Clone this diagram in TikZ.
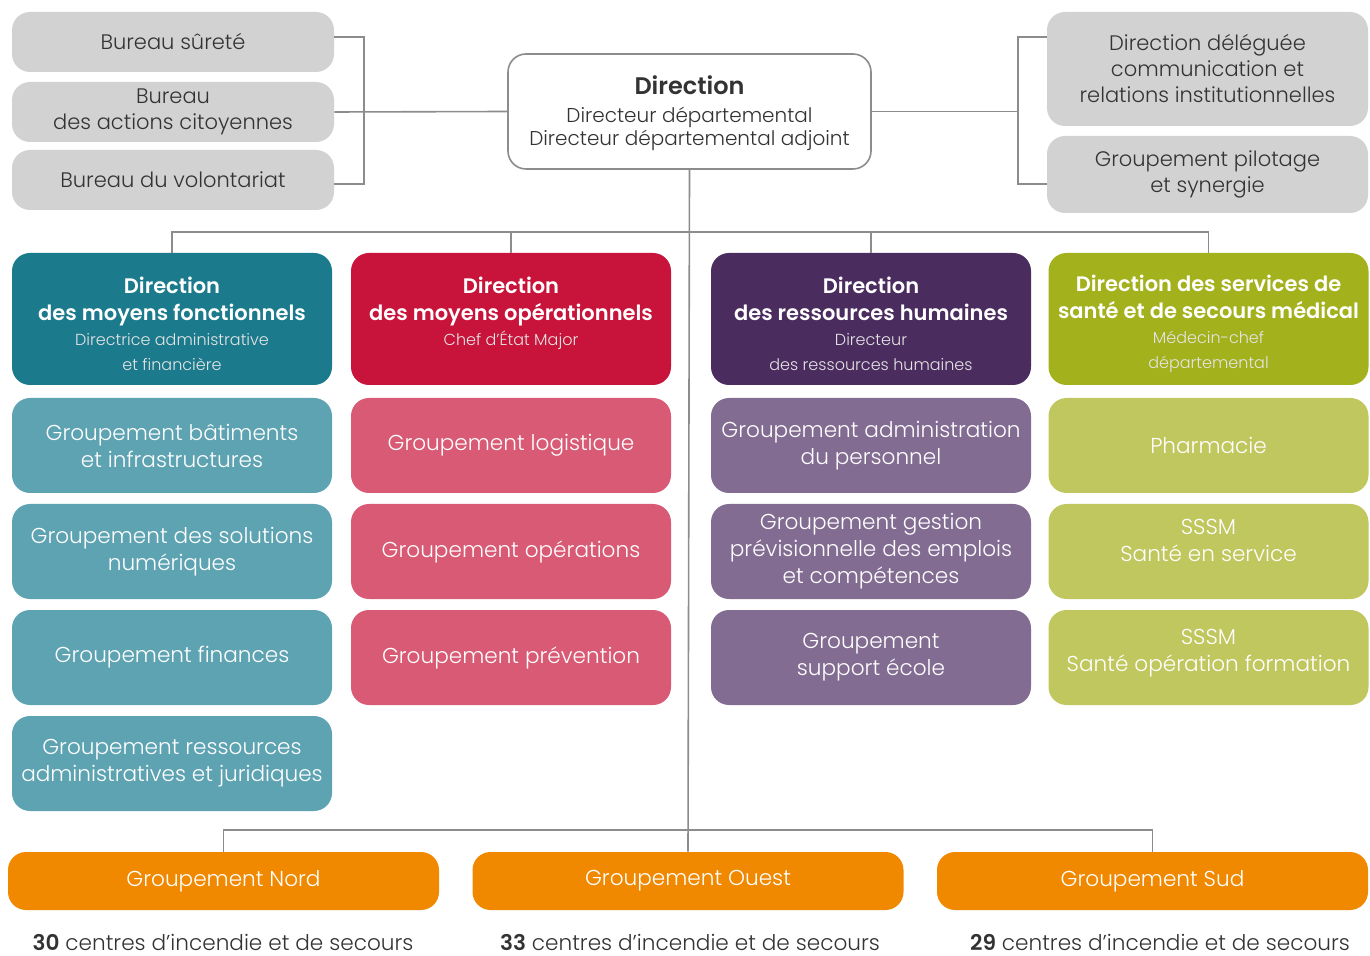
\documentclass[tikz,border=0pt]{standalone}
\usepackage{fontspec}
\setmainfont{Poppins}[UprightFont={* Light}, BoldFont={* SemiBold}]
\definecolor{lgray}{HTML}{D2D2D2}
\definecolor{tgray}{HTML}{333333}
\definecolor{linec}{HTML}{8C8C8C}
\definecolor{tealD}{HTML}{1B7A8C}
\definecolor{tealL}{HTML}{5EA3B2}
\definecolor{redD}{HTML}{C8133B}
\definecolor{redL}{HTML}{D85A74}
\definecolor{purD}{HTML}{4B2C5F}
\definecolor{purL}{HTML}{836C92}
\definecolor{olvD}{HTML}{A3B11D}
\definecolor{olvL}{HTML}{BFC75E}
\definecolor{orng}{HTML}{F08900}
\newcommand{\subtx}[1]{{\fontsize{8}{12}\selectfont\mdseries\color{white!90!black}#1}}
\begin{document}
\begin{tikzpicture}[x=0.5pt,y=-0.5pt,
  box/.style={rounded corners=9pt, align=center, inner sep=2pt, font=\fontsize{10.5}{13}\selectfont},
  graybox/.style={box, fill=lgray, text=tgray, minimum width=161pt},
  dirbox/.style={box, text=white, minimum width=160pt, minimum height=66pt, font=\fontsize{10.5}{13.5}\selectfont\bfseries},
  subbox/.style={box, text=white, minimum width=160pt, minimum height=47.5pt, font=\fontsize{10.8}{13.5}\selectfont},
  orbox/.style={box, fill=orng, text=white, minimum width=215.5pt, minimum height=29pt, font=\fontsize{10.8}{13}\selectfont},
  conn/.style={draw=linec, line width=0.8pt},
  count/.style={text=tgray, font=\fontsize{10.8}{13}\selectfont}
]
\useasboundingbox (0,0) rectangle (1370,956);

% top left
\node[graybox, minimum height=30pt] (bs) at (173,42) {Bureau sûreté};
\node[graybox, minimum height=30pt] (bac) at (173,112) {Bureau\\des actions citoyennes};
\node[graybox, minimum height=30pt] (bv) at (173,180) {Bureau du volontariat};

% direction
\node[box, draw=linec, line width=0.8pt, fill=white, minimum width=181.5pt, minimum height=57.5pt, text=tgray, font=\fontsize{10}{11.5}\selectfont] (dir) at (689.5,111.5)
  {\rule{0pt}{11.2pt}{\fontsize{12}{15}\selectfont\bfseries Direction}\\[2.6pt]Directeur départemental\\Directeur départemental adjoint};

% top right
\node[graybox, minimum width=160.5pt, minimum height=57pt] (dcom) at (1207.5,69) {Direction déléguée\\communication et\\relations institutionnelles};
\node[graybox, minimum width=160.5pt, minimum height=38.5pt] (gps) at (1207.5,174.5) {Groupement pilotage\\et synergie};

% directions
\node[dirbox, fill=tealD] (dmf) at (172,319) {\rule{0pt}{13pt}Direction\\des moyens fonctionnels\\[-1pt]\subtx{Directrice administrative}\\[-1pt]\subtx{et financière}};
\node[dirbox, fill=redD] (dmo) at (511,319) {\rule{0pt}{13pt}Direction\\des moyens opérationnels\\[-1pt]\subtx{Chef d’État Major}\\[-1pt]\subtx{\vphantom{et financière}}};
\node[dirbox, fill=purD] (drh) at (871,319) {\rule{0pt}{13pt}Direction\\des ressources humaines\\[-1pt]\subtx{Directeur}\\[-1pt]\subtx{des ressources humaines}};
\node[dirbox, fill=olvD] (dss) at (1208.5,319) {\rule{0pt}{13pt}Direction des services de\\santé et de secours médical\\[-1pt]\subtx{Médecin-chef}\\[-1pt]\subtx{départemental}};

% column 1
\node[subbox, fill=tealL] (g11) at (172,445.5) {Groupement bâtiments\\et infrastructures};
\node[subbox, fill=tealL] (g12) at (172,551.5) {Groupement des solutions\\numériques};
\node[subbox, fill=tealL] (g13) at (172,657.5) {Groupement finances};
\node[subbox, fill=tealL] (g14) at (172,763.5) {Groupement ressources\\administratives et juridiques};
% column 2
\node[subbox, fill=redL] (g21) at (511,445.5) {Groupement logistique};
\node[subbox, fill=redL] (g22) at (511,551.5) {Groupement opérations};
\node[subbox, fill=redL] (g23) at (511,657.5) {Groupement prévention};
% column 3
\node[subbox, fill=purL] (g31) at (871,445.5) {Groupement administration\\du personnel};
\node[subbox, fill=purL] (g32) at (871,551.5) {Groupement gestion\\prévisionnelle des emplois\\et compétences};
\node[subbox, fill=purL] (g33) at (871,657.5) {Groupement\\support école};
% column 4
\node[subbox, fill=olvL] (g41) at (1208.5,445.5) {Pharmacie};
\node[subbox, fill=olvL] (g42) at (1208.5,551.5) {SSSM\\Santé en service\\[-2pt]\rule{0pt}{8pt}};
\node[subbox, fill=olvL] (g43) at (1208.5,657.5) {SSSM\\Santé opération formation\\[-6pt]\rule{0pt}{6pt}};

% bottom
\node[orbox] (nord) at (223.5,881) {Groupement Nord};
\node[orbox] (ouest) at (688,881) {Groupement Ouest};
\node[orbox] (sud) at (1152.5,881) {Groupement Sud};
\node[count] (cn) at (223,942) {\textbf{30} centres d’incendie et de secours};
\node[count] (co) at (690,942) {\textbf{33} centres d’incendie et de secours};
\node[count] (cs) at (1160,942) {\textbf{29} centres d’incendie et de secours};

% connectors
\coordinate (lbt) at (364,37);
\coordinate (lbb) at (364,184);
\draw[conn] (bs.east |- lbt) -- (lbt) -- (lbb) -- (bv.east |- lbb);
\draw[conn] (bac.east) -- (dir.west);
\coordinate (rbt) at (1018,37);
\coordinate (rbb) at (1018,184);
\draw[conn] (dcom.west |- rbt) -- (rbt) -- (rbb) -- (gps.west |- rbb);
\draw[conn] (dir.east) -- (dir.east -| rbt);

\coordinate (bar) at (690,232);
\draw[conn] (dir.south) -- (ouest.north);
\draw[conn] (dmf.north) |- (bar) -| (dss.north);
\draw[conn] (dmo.north) -- (dmo.north |- bar);
\draw[conn] (drh.north) -- (drh.north |- bar);
\coordinate (bbar) at (690,830);
\draw[conn] (nord.north) |- (bbar) -| (sud.north);
\end{tikzpicture}
\end{document}
